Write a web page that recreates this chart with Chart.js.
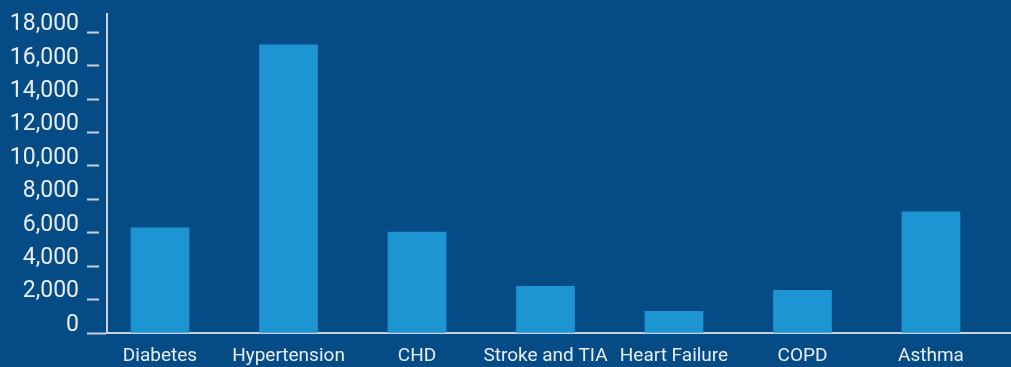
<!DOCTYPE html>
<html>
<head>
<meta charset="utf-8">
<script src="https://cdn.jsdelivr.net/npm/chart.js@4/dist/chart.umd.min.js"></script>
<style>
  html, body { margin: 0; padding: 0; background: #054b85; }
  #wrap { width: 1011px; height: 367px; position: relative; }
</style>
</head>
<body>
<div id="wrap"><canvas id="chart"></canvas></div>
<script>
// Registered patients by condition
const categories = ['Diabetes', 'Hypertension', 'CHD', 'Stroke and TIA', 'Heart Failure', 'COPD', 'Asthma'];
const patients = [6300, 17250, 6050, 2800, 1300, 2550, 7250];
const yTicks = [0, 2000, 4000, 6000, 8000, 10000, 12000, 14000, 16000, 18000];

const BG = '#054b85';
const BAR = '#1e95d3';
const TEXT = '#e8eef4';
const AXIS = '#c8d3df';
const FONT = 'Roboto, "Liberation Sans", Arial, sans-serif';

const points = patients.map((v, i) => ({ x: i, y: v }));

new Chart(document.getElementById('chart'), {
  type: 'bar',
  data: {
    datasets: [{
      data: points,
      backgroundColor: BAR,
      borderWidth: 0,
      barThickness: 58
    }]
  },
  options: {
    responsive: true,
    maintainAspectRatio: false,
    animation: false,
    layout: { padding: { top: 14, left: 0, right: 0, bottom: 0 } },
    plugins: { legend: { display: false }, tooltip: { enabled: false } },
    scales: {
      x: {
        type: 'linear',
        offset: false,
        min: -0.4125,
        max: 6.6226,
        z: 1,
        afterBuildTicks: (scale) => {
          scale.ticks = categories.map((_, i) => ({ value: i }));
        },
        afterFit: (scale) => {
          scale.height = 34;
          scale.paddingLeft = 0;
          scale.paddingRight = 0;
        },
        grid: { display: false, drawTicks: false, offset: false },
        border: { display: true, color: AXIS, width: 2 },
        ticks: {
          autoSkip: false,
          maxRotation: 0,
          padding: 12,
          color: TEXT,
          font: { family: FONT, size: 19 },
          callback: (v) => categories[v]
        }
      },
      y: {
        min: 0,
        max: 19100,
        afterBuildTicks: (scale) => {
          scale.ticks = yTicks.map(v => ({ value: v }));
        },
        afterFit: (scale) => {
          scale.width = 107;
          scale.paddingTop = 0;
          scale.paddingBottom = 0;
        },
        grid: {
          display: true,
          drawOnChartArea: false,
          drawTicks: true,
          tickLength: 20,
          tickWidth: 2,
          tickColor: AXIS,
          tickBorderDash: (ctx) => (ctx.tick && ctx.tick.value === 0) ? [] : [12, 8]
        },
        border: { display: true, color: AXIS, width: 2 },
        ticks: {
          padding: 8,
          labelOffset: -8,
          color: TEXT,
          font: { family: FONT, size: 23 },
          callback: (v) => v.toLocaleString('en-US')
        }
      }
    }
  }
});
</script>
</body>
</html>
